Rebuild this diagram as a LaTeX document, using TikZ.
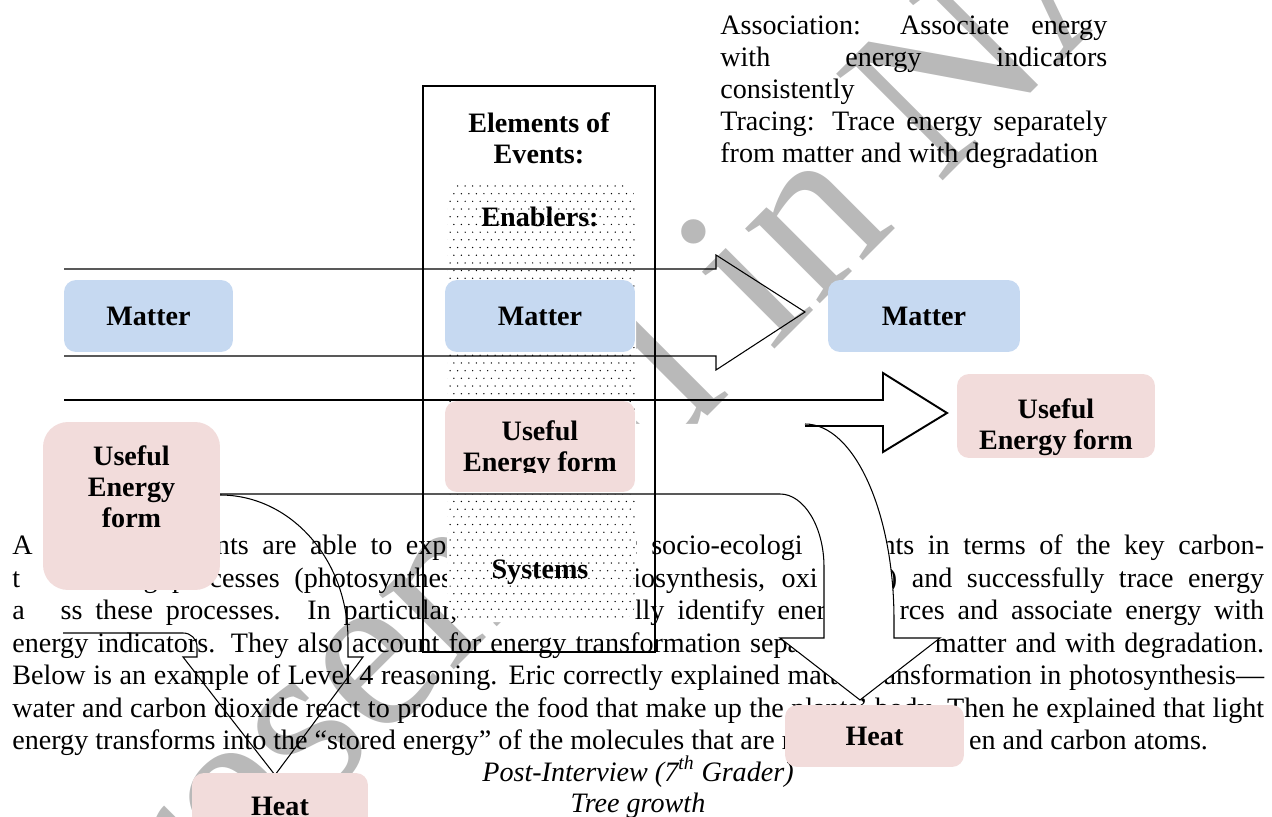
\documentclass[tikz,border=0pt]{standalone}
\usepackage{fontspec}
\setmainfont{Liberation Serif}
\usetikzlibrary{patterns}

\definecolor{mattblue}{RGB}{198,217,241}
\definecolor{energypink}{RGB}{242,220,219}
\definecolor{markgray}{RGB}{185,185,185}

% staggered dots for the enablers field
\pgfdeclarepatternformonly{enabdots}{\pgfqpoint{-1pt}{-1pt}}{\pgfqpoint{5.3pt}{9.8pt}}{\pgfqpoint{4.27pt}{8.76pt}}{%
  \pgfpathcircle{\pgfqpoint{0pt}{0pt}}{0.42pt}%
  \pgfpathcircle{\pgfqpoint{2.135pt}{4.38pt}}{0.42pt}%
  \pgfusepath{fill}}

\begin{document}
\begin{tikzpicture}[x=0.02cm, y=-0.02cm,
    font=\fontsize{16}{17.6}\selectfont,
    txt/.style={inner sep=0pt, anchor=base west},
    lbl/.style={inner sep=0pt, align=center, font=\fontsize{16}{17.6}\selectfont\bfseries},
    box/.style={rounded corners=0.24cm, inner sep=0pt, font=\fontsize{16}{17.6}\selectfont\bfseries},
    mbox/.style={box, fill=mattblue, minimum height=1.44cm},
    ebox/.style={box, fill=energypink},
    thinline/.style={line width=0.6pt},
    thickline/.style={line width=1.1pt}]

\useasboundingbox (0,0) rectangle (1272,817);

% watermark
\node[anchor=base west, inner sep=0pt, rotate=45, text=markgray, font=\fontsize{131}{131}\selectfont] (mark) at (98,1026) {Presented in NARST};

% body text of the page
\node[txt] (l1) at (12,555) {\makebox[25.04cm][s]{A\phantom{t Level 4, stude}\hspace{0.2cm}nts are able to expla\phantom{in macroscop}ic socio-ecologi\phantom{cal ev}ents in terms of the key carbon-}};
\node[txt] (l2) at (12,587) {\makebox[25.04cm][s]{t\phantom{ransformin}g processes (photosynthes\phantom{is, respiration, }biosynthesis, oxi\phantom{dation}) and successfully trace energy}};
\node[txt] (l3) at (12,620) {\makebox[25.04cm][s]{a\phantom{cro}ss these processes. In particular, \phantom{they successfu}lly identify energ\phantom{y sou}rces and associate energy with}};
\node[txt] (l4) at (12,652) {\makebox[25.04cm][s]{energy indicators. They also account for energy transformation sepa\phantom{rately from} matter and with degradation.}};
\node[txt] (l5) at (12,684) {\makebox[25.04cm][s]{Below is an example of Level 4 reasoning. Eric correctly explained matt\phantom{er tr}ansformation in photosynthesis—}};
\node[txt] (l6) at (12,717) {\makebox[25.04cm][s]{water and carbon dioxide react to produce the food that make up the plants’ body. Then he explained that light}};
\node[txt] (l7) at (12,749) {energy transforms into the “stored energy” of the molecules that are r\phantom{ich with hydrog}en and carbon atoms.};
\node[inner sep=0pt, anchor=base, font=\fontsize{16}{17.6}\selectfont\itshape] (pi) at (638,781) {Post-Interview (7\textsuperscript{th} Grader)};
\node[inner sep=0pt, anchor=base, font=\fontsize{16}{17.6}\selectfont\itshape] (tg) at (638,812) {Tree growth};

% levels text, top right
\node[txt] (t1) at (720,35) {\makebox[7.74cm][s]{Association: Associate energy}};
\node[txt] (t2) at (720,67) {\makebox[7.74cm][s]{with energy indicators}};
\node[txt] (t3) at (720,99) {consistently};
\node[txt] (t4) at (720,131) {\makebox[7.74cm][s]{Tracing: Trace energy separately}};
\node[txt] (t5) at (720,163) {from matter and with degradation};

% enablers field
\fill[white, rounded corners=0.4cm] (447,182) rectangle (636,622);
\fill[pattern=enabdots, rounded corners=0.4cm] (447,182) rectangle (636,622);

% curved arrow down to the right heat
\fill[white] (200,424) -- (805,424) .. controls (854,424) and (894,512) .. (894,620) -- (894,638) -- (940,638) -- (860,700) -- (780,638) -- (824,638) -- (824,567) .. controls (824,527) and (804,494) .. (780,494) -- (200,494) -- cycle;
\draw[thinline] (805,424) .. controls (854,424) and (894,512) .. (894,620) -- (894,638) -- (940,638) -- (860,700) -- (780,638) -- (824,638) -- (824,567) .. controls (824,527) and (804,494) .. (780,494) -- (220,494);

% energy arrow
\draw[thickline] (64,400) -- (883,400) -- (883,373) -- (947,413) -- (883,452) -- (883,426) -- (805,426);

% curved arrow down to the left heat
\draw[thinline] (220,495) .. controls (291,495) and (348,560) .. (348,640) -- (348,657) -- (363,657) -- (275,775) -- (183,657) -- (197,657) -- (197,647) .. controls (197,639) and (191,633) .. (183,633) -- (63,633);

% matter arrow
\draw[thinline] (64,269) -- (716,269) -- (716,255) -- (805,312) -- (716,370) -- (716,356) -- (64,356);

% matter boxes
\node[mbox, minimum width=3.38cm] (mL) at (148.5,316) {Matter};
\node[mbox, minimum width=3.8cm] (mC) at (540,316) {Matter};
\node[mbox, minimum width=3.84cm] (mR) at (924,316) {Matter};

% energy boxes
\node[ebox, rounded corners=0.5cm, minimum width=3.54cm, minimum height=3.36cm] (uL) at (131.5,506) {};
\node[lbl] (uLt) at (131.5,487) {Useful\\Energy\\form};
\node[ebox, minimum width=3.8cm, minimum height=1.82cm] (uC) at (540,446.5) {};
\begin{scope}
  \clip (445,401) rectangle (635,473);
  \node[lbl] (uCt) at (540,449) {Useful\\Energy form};
\end{scope}
\node[ebox, minimum width=3.96cm, minimum height=1.68cm] (uR) at (1056,416) {};
\node[lbl] (uRt) at (1056,427) {Useful\\Energy form};
\node[ebox, minimum width=3.58cm, minimum height=1.24cm] (hR) at (874.5,736) {Heat};
\node[ebox, minimum width=3.52cm, minimum height=1.34cm] (hL) at (280,806.5) {Heat};

% event column
\draw[line width=1.7pt] (423,86) rectangle (655,652);
\node[lbl] (ev) at (539,138) {Elements of\\Events:};
\node[lbl] (en) at (540,217) {Enablers:};
\node[lbl] (sy) at (540,572) {Systems};

\end{tikzpicture}
\end{document}
